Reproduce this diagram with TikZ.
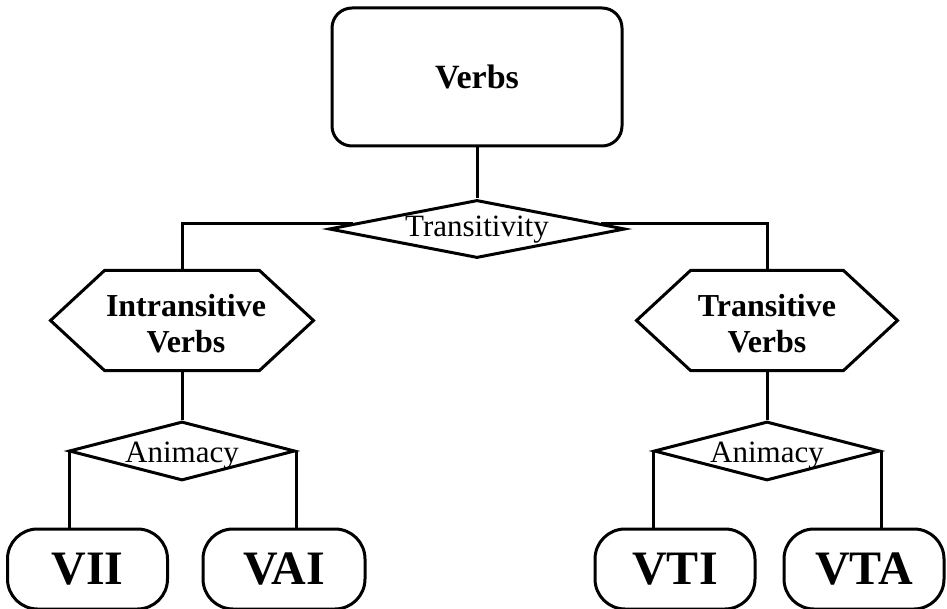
\documentclass[tikz,border=0pt]{standalone}
\usepackage{fontspec}
\setmainfont{Liberation Serif}
\usetikzlibrary{shapes.geometric,calc}
\begin{document}
\begin{tikzpicture}[x=1pt,y=-1pt,line width=3pt,
  rootbox/.style={draw,rectangle,rounded corners=20pt,minimum width=290pt,minimum height=138pt,
    inner sep=0pt,font=\fontsize{34}{40}\selectfont\bfseries},
  choice/.style={draw,diamond,inner sep=0pt},
  choicetext/.style={font=\fontsize{31}{34}\selectfont,inner sep=0pt},
  hexarea/.style={rectangle,inner sep=0pt},
  hextext/.style={inner sep=0pt,align=center,font=\fontsize{32}{36}\selectfont\bfseries},
  hexline/.style={line join=miter},
  leafbox/.style={draw,rectangle,rounded corners=30pt,minimum width=160pt,minimum height=80pt,
    inner sep=0pt,font=\fontsize{48}{52}\selectfont\bfseries},
  link/.style={line join=miter}]
\useasboundingbox (0,0) rectangle (947,609);
\clip (0,0) rectangle (947,609);

% root
\node[rootbox] (verbs) at (477,77) {Verbs};

% first split
\node[choice,minimum width=296pt,minimum height=58pt,
  label={[choicetext,yshift=-1pt]center:Transitivity}] (trans) at (477,229) {};

% middle categories (hexagons)
\node[hexarea,minimum width=260pt,minimum height=97pt,
  label={[hextext,xshift=4pt,yshift=-3pt]center:{Intransitive\\Verbs}}] (intr) at (182,320.5) {};
\node[hexarea,minimum width=258pt,minimum height=97pt,
  label={[hextext,yshift=-3pt]center:{Transitive\\Verbs}}] (tr) at (767,320.5) {};
\foreach \h in {intr,tr}{
  \draw[hexline] (\h.west) -- ([xshift=54pt]\h.north west) -- ([xshift=-54pt]\h.north east)
    -- (\h.east) -- ([xshift=-54pt]\h.south east) -- ([xshift=54pt]\h.south west) -- cycle;
}

% second splits
\node[choice,minimum width=226pt,minimum height=59pt,
  label={[choicetext,yshift=-5pt]center:Animacy}] (animL) at (182,451) {};
\node[choice,minimum width=226pt,minimum height=59pt,
  label={[choicetext,yshift=-5pt]center:Animacy}] (animR) at (767,451) {};

% leaves
\node[leafbox] (vii) at (87.5,569) {VII};
\node[leafbox,minimum width=162pt] (vai) at (284,569) {VAI};
\node[leafbox] (vti) at (675,569) {VTI};
\node[leafbox] (vta) at (864,569) {VTA};

% connectors
\draw[link] (verbs.south) -- (trans.north);
\draw[link] ($(trans.west)!0.17!(trans.north)$) -| (intr.north);
\draw[link] ($(trans.east)!0.17!(trans.north)$) -| (tr.north);
\draw[link] (intr.south) -- (animL.north);
\draw[link] (tr.south) -- (animR.north);
\draw[link] ([xshift=2pt]animL.west) -- ([xshift=2pt]animL.west |- vii.north);
\draw[link] (animL.east) -- (animL.east |- vai.north);
\draw[link] ([xshift=1pt]animR.west) -- ([xshift=1pt]animR.west |- vti.north);
\draw[link] (animR.east) -- (animR.east |- vta.north);
\end{tikzpicture}
\end{document}
